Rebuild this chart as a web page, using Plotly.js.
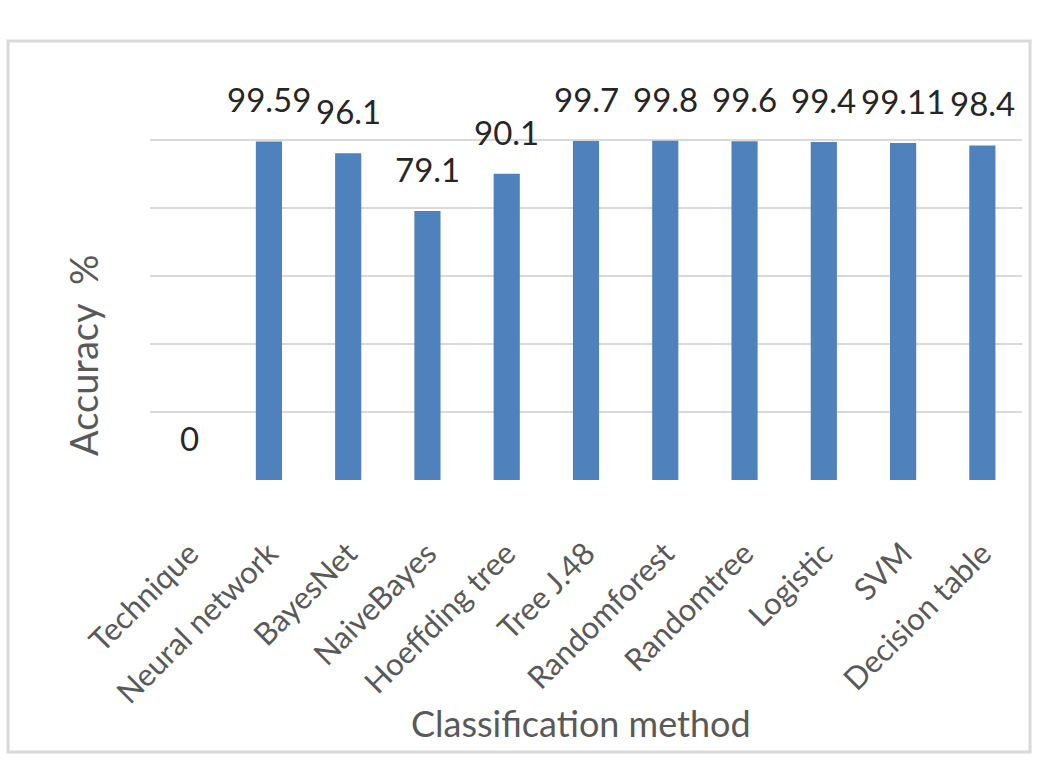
<!DOCTYPE html>
<html>
<head>
<meta charset="utf-8">
<script src="https://cdn.plot.ly/plotly-3.0.1.min.js"></script>
<style>html,body{margin:0;padding:0;background:#fff;}#chart{width:1055px;height:768px;}</style>
</head>
<body>
<div id="chart"></div>
<script>
const categories = ["Technique","Neural network","BayesNet","NaiveBayes","Hoeffding tree","Tree J.48","Randomforest","Randomtree","Logistic","SVM","Decision table"];
const accuracy = [0, 99.59, 96.1, 79.1, 90.1, 99.7, 99.8, 99.6, 99.4, 99.11, 98.4];
const valueLabels = ["0","99.59","96.1","79.1","90.1","99.7","99.8","99.6","99.4","99.11","98.4"];

const FONT = "Lato, 'Open Sans', sans-serif";

const trace = {
  type: "bar",
  x: categories,
  y: accuracy,
  marker: {color: "#4f81bd"},
  hoverinfo: "x+y"
};

const labelAnns = categories.map((c, i) => ({
  x: c, y: accuracy[i], xref: "x", yref: "y",
  text: valueLabels[i], showarrow: false,
  yanchor: "bottom", yshift: 20,
  font: {family: FONT, size: 33, color: "#262626"}
}));

const layout = {
  width: 1055, height: 768,
  margin: {l: 150, r: 33, t: 72, b: 288},
  paper_bgcolor: "#ffffff", plot_bgcolor: "#ffffff",
  showlegend: false,
  bargap: 0.67,
  font: {family: FONT, color: "#595959"},
  xaxis: {
    type: "category",
    tickangle: -45,
    tickfont: {family: FONT, size: 31, color: "#595959"},
    ticks: "outside", ticklen: 42, tickcolor: "rgba(0,0,0,0)",
    showgrid: false, showline: false, zeroline: false
  },
  yaxis: {
    range: [0, 120], dtick: 20,
    showticklabels: false,
    showgrid: true, gridcolor: "#d9d9d9", gridwidth: 2,
    zeroline: false, showline: false, ticks: ""
  },
  shapes: [{
    type: "rect", xref: "paper", yref: "paper",
    x0: -0.1628, x1: 1.0092, y0: -0.6667, y1: 1.076,
    line: {color: "#d9d9d9", width: 3}, fillcolor: "rgba(0,0,0,0)", layer: "below"
  }],
  annotations: labelAnns.concat([
    {xref: "paper", yref: "paper", x: -0.0768, y: 0.304, textangle: -90,
     text: "Accuracy  %", showarrow: false, xanchor: "center", yanchor: "middle",
     font: {family: FONT, size: 38, color: "#595959"}},
    {xref: "paper", yref: "paper", x: 0.494, y: -0.596,
     text: "Classification method", showarrow: false, xanchor: "center", yanchor: "middle",
     font: {family: FONT, size: 36, color: "#595959"}}
  ])
};

Plotly.newPlot("chart", [trace], layout, {displayModeBar: false, staticPlot: true});
</script>
</body>
</html>
